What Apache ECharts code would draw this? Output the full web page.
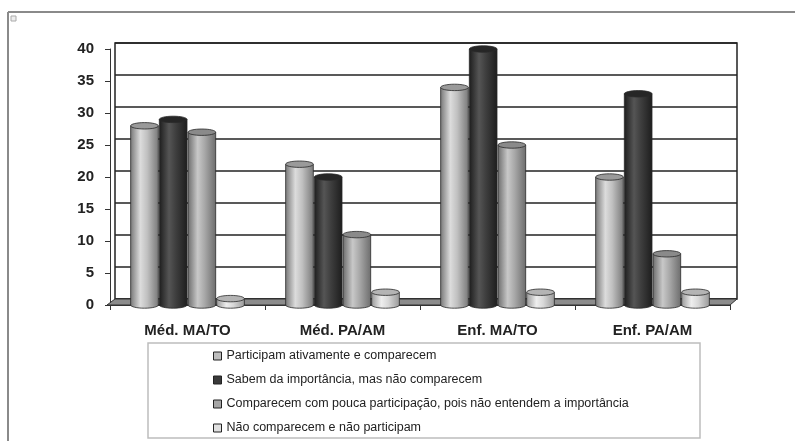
<!DOCTYPE html>
<html>
<head>
<meta charset="utf-8">
<script src="https://cdn.jsdelivr.net/npm/echarts@6/dist/echarts.min.js"></script>
<style>
  html, body { margin: 0; padding: 0; background: #fff; }
  #chart { width: 795px; height: 441px; }
</style>
</head>
<body>
<div id="chart"></div>
<script>
// Categories (groups along the x axis)
const categories = ['Méd. MA/TO', 'Méd. PA/AM', 'Enf. MA/TO', 'Enf. PA/AM'];

// One array per response
const participamAtivamente = [28, 22, 34, 20];
const sabemImportancia     = [29, 20, 40, 33];
const poucaParticipacao    = [27, 11, 25, 8];
const naoComparecem        = [1, 2, 2, 2];

const seriesNames = [
  'Participam ativamente e comparecem',
  'Sabem da importância, mas não comparecem',
  'Comparecem com pouca participação, pois não entendem a importância',
  'Não comparecem e não participam'
];

// Value axis ticks
const yTicks = [0, 5, 10, 15, 20, 25, 30, 35, 40];

// Layout of the front plane (bars, axes) and the back wall
const FRONT = { left: 110, right: 65, top: 49, bottom: 136 };
const BACK  = { left: 115, right: 58, top: 43, bottom: 142 };
const W = 795, H = 441;
const BAR_FILL = 0.74; // share of each category band covered by bars

// Cylinder shading per series: [edge, mid, highlight, cap]
const shades = [
  ['#7a7a7a', '#c0c0c0', '#dcdcdc', '#9a9a9a'],
  ['#1e1e1e', '#3e3e3e', '#555555', '#262626'],
  ['#6e6e6e', '#a8a8a8', '#c8c8c8', '#8a8a8a'],
  ['#9a9a9a', '#d8d8d8', '#eeeeee', '#b4b4b4']
];
const legendColors = ['#bdbdbd', '#3a3a3a', '#a6a6a6', '#e0e0e0'];

function bodyGradient(s) {
  return new echarts.graphic.LinearGradient(0, 0, 1, 0, [
    { offset: 0, color: s[0] },
    { offset: 0.35, color: s[2] },
    { offset: 0.6, color: s[1] },
    { offset: 1, color: s[0] }
  ]);
}

function cylinder(idx) {
  return function (params, api) {
    const cat = api.value(0);
    const val = api.value(1);
    const base = api.coord([cat, 0]);
    const top = api.coord([cat, val]);
    const band = api.size([1, 0])[0];
    const w = band * BAR_FILL / 4;
    const cx = base[0] + (idx - 1.5) * w;
    const rx = w / 2 - 0.5;
    const ry = 3.2;
    const s = shades[idx];
    const stroke = { stroke: '#2a2a2a', lineWidth: 0.8 };
    return {
      type: 'group',
      children: [
        {
          type: 'ellipse',
          shape: { cx: cx, cy: base[1], rx: rx, ry: ry },
          style: Object.assign({ fill: bodyGradient(s) }, stroke)
        },
        {
          type: 'rect',
          shape: { x: cx - rx, y: top[1], width: rx * 2, height: base[1] - top[1] },
          style: { fill: bodyGradient(s), stroke: null }
        },
        {
          type: 'line',
          shape: { x1: cx - rx, y1: top[1], x2: cx - rx, y2: base[1] },
          style: stroke
        },
        {
          type: 'line',
          shape: { x1: cx + rx, y1: top[1], x2: cx + rx, y2: base[1] },
          style: stroke
        },
        {
          type: 'ellipse',
          shape: { cx: cx, cy: top[1], rx: rx, ry: ry },
          style: Object.assign({ fill: s[3] }, stroke)
        }
      ]
    };
  };
}

const valueSets = [participamAtivamente, sabemImportancia, poucaParticipacao, naoComparecem];

const series = valueSets.map(function (vals, i) {
  return {
    name: seriesNames[i],
    type: 'custom',
    xAxisIndex: 1,
    yAxisIndex: 1,
    z: 5,
    itemStyle: { color: legendColors[i] },
    renderItem: cylinder(i),
    encode: { x: 0, y: 1 },
    data: vals.map(function (v, c) { return [c, v]; })
  };
});

// Floor of the plot, between the front base line and the back wall base
const frontL = FRONT.left - 3, frontR = W - FRONT.right, frontY = H - FRONT.bottom;
const backL = BACK.left, backR = W - BACK.right, backY = H - BACK.bottom;

const chart = echarts.init(document.getElementById('chart'));
chart.setOption({
  backgroundColor: '#ffffff',
  animation: false,
  textStyle: { fontFamily: 'Liberation Sans, Arial, sans-serif' },
  grid: [
    {
      left: BACK.left, right: BACK.right, top: BACK.top, bottom: BACK.bottom,
      show: true, borderColor: '#222', borderWidth: 1.5, backgroundColor: '#fff'
    },
    {
      left: FRONT.left, right: FRONT.right, top: FRONT.top, bottom: FRONT.bottom
    }
  ],
  xAxis: [
    { type: 'category', gridIndex: 0, data: categories, show: false },
    {
      type: 'category', gridIndex: 1, data: categories,
      axisLine: { show: true, lineStyle: { color: '#333', width: 1 } },
      axisTick: { show: true, alignWithLabel: false, length: 5, lineStyle: { color: '#333' } },
      axisLabel: {
        color: '#222', fontWeight: 'bold', fontSize: 15, margin: 18,
        fontFamily: 'Liberation Sans, Arial, sans-serif'
      },
      splitLine: { show: false }
    }
  ],
  yAxis: [
    {
      type: 'value', gridIndex: 0, min: yTicks[0], max: yTicks[yTicks.length - 1], interval: 5,
      axisLine: { show: false }, axisTick: { show: false }, axisLabel: { show: false },
      splitLine: { show: true, lineStyle: { color: '#222', width: 1.5 } }
    },
    {
      type: 'value', gridIndex: 1, min: yTicks[0], max: yTicks[yTicks.length - 1], interval: 5,
      axisLine: { show: true, lineStyle: { color: '#333', width: 1 } },
      axisTick: { show: true, length: 5, lineStyle: { color: '#333' } },
      axisLabel: {
        color: '#222', fontWeight: 'bold', fontSize: 15, margin: 16,
        fontFamily: 'Liberation Sans, Arial, sans-serif'
      },
      splitLine: { show: false }
    }
  ],
  legend: {
    orient: 'vertical',
    left: 213,
    top: 349,
    height: 120,
    padding: 0,
    itemWidth: 8,
    itemHeight: 8,
    itemGap: 10,
    icon: 'rect',
    itemStyle: { borderColor: '#222', borderWidth: 1 },
    textStyle: {
      color: '#222', fontSize: 12.5, lineHeight: 14,
      fontFamily: 'Liberation Sans, Arial, sans-serif'
    },
    selectedMode: false,
    data: seriesNames
  },
  graphic: [
    // page frame
    { type: 'line', shape: { x1: 8, y1: 12, x2: W, y2: 12 }, style: { stroke: '#8a8a8a', lineWidth: 2 } },
    { type: 'line', shape: { x1: 8, y1: 12, x2: 8, y2: H }, style: { stroke: '#8a8a8a', lineWidth: 2 } },
    { type: 'rect', shape: { x: 11, y: 16, width: 5, height: 5 }, style: { fill: '#eee', stroke: '#aaa', lineWidth: 1 } },
    // floor
    {
      type: 'polygon', z: 2,
      shape: { points: [[frontL, frontY], [frontR, frontY], [backR, backY], [backL, backY]] },
      style: { fill: '#8c8c8c', stroke: '#333', lineWidth: 1 }
    },
    // legend frame
    {
      type: 'rect',
      shape: { x: 148, y: 343, width: 552, height: 95 },
      style: { fill: null, stroke: '#bdbdbd', lineWidth: 1.5 }
    }
  ],
  series: series
});
</script>
</body>
</html>
